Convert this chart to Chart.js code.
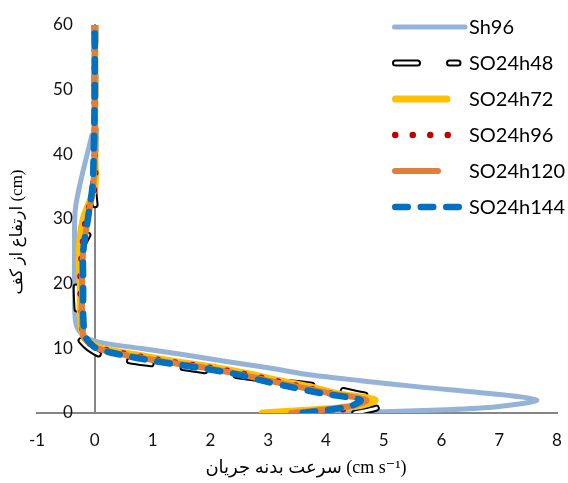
<!DOCTYPE html>
<html>
<head>
<meta charset="utf-8">
<script src="https://cdn.jsdelivr.net/npm/chart.js@4.4.0/dist/chart.umd.min.js"></script>
<style>
  html, body { margin: 0; padding: 0; background: #fff; }
  #wrap { width: 568px; height: 483px; }
</style>
</head>
<body>
<div id="wrap"><canvas id="velocityProfile" width="568" height="483"></canvas></div>
<script>
// heights above the bed (cm)
const heightsSO = [0, 1, 2, 3, 4, 5, 6, 7, 8, 9, 10, 11, 12, 15, 20, 25, 30, 35, 40, 50, 60];
const heightsSh96 = [0, 0.5, 1, 2, 3, 4, 5, 6, 7, 8, 9, 10, 11, 12, 14, 20, 25, 32, 43];

// body velocity (cm/s) at each height
const velSh96 = [4.2, 6.1, 7.0, 7.65, 6.85, 5.65, 4.6, 3.65, 3.0, 2.25, 1.55, 0.78, 0.05, -0.2, -0.33, -0.35, -0.35, -0.33, -0.05];
const velSO24h48 = [4.5, 4.95, 5.0, 4.55, 4.0, 3.1, 2.3, 1.55, 0.65, 0.1, -0.1, -0.22, -0.28, -0.3, -0.32, -0.25, 0.0, -0.02, 0, 0, 0];
const velSO24h72 = [2.9, 4.5, 4.85, 4.2, 3.75, 3.2, 2.7, 2.1, 1.35, 0.7, 0.12, -0.1, -0.2, -0.25, -0.25, -0.27, -0.2, 0, 0, 0, 0];
const velSO24h96 = [4.0, 4.45, 4.6, 4.1, 3.6, 3.1, 2.6, 2.0, 1.25, 0.62, 0.08, -0.12, -0.2, -0.22, -0.25, -0.22, -0.15, 0, 0, 0, 0];
const velSO24h120 = [3.4, 4.4, 4.7, 4.1, 3.55, 3.0, 2.5, 1.9, 1.15, 0.5, 0.05, -0.12, -0.2, -0.22, -0.22, -0.2, -0.12, -0.03, 0, 0, 0];
const velSO24h144 = [3.6, 4.4, 4.6, 3.95, 3.4, 2.9, 2.45, 1.8, 1.05, 0.45, 0.03, -0.1, -0.17, -0.2, -0.2, -0.2, -0.12, -0.04, -0.02, 0, 0];

const seriesNames = ['Sh96', 'SO24h48', 'SO24h72', 'SO24h96', 'SO24h120', 'SO24h144'];
const xRange = [-1, 8];
const yRange = [0, 60];
const xTitle = 'سرعت بدنه جریان (cm s\u207B\u00B9)';
const yTitle = 'ارتفاع از کف (cm)';

const tickFont = '17px Lato';
const tickColor = '#111';
const titleFont = "18px 'Liberation Serif', 'DejaVu Sans'";

// line look for each series, also used for the legend keys
const styles = [
  { color: '#95B3D7', width: 5, dash: [], cap: 'round', key: 73 },
  { color: '#000000', width: 7, dash: [22, 32], cap: 'round', key: 66, inner: '#ffffff' },
  { color: '#FFC000', width: 7, dash: [], cap: 'round', key: 55 },
  { color: '#C00000', width: 6.5, dash: [0, 17.5], cap: 'round', key: 70 },
  { color: '#E07F3C', width: 6, dash: [], cap: 'round', key: 46 },
  { color: '#0070C0', width: 6.5, dash: [12.5, 13], cap: 'round', key: 67 }
];

function toPoints(vel, heights) {
  return heights.map(function (h, i) { return { x: vel[i], y: h }; });
}

const profiles = [
  toPoints(velSh96, heightsSh96),
  toPoints(velSO24h48, heightsSO),
  toPoints(velSO24h72, heightsSO),
  toPoints(velSO24h96, heightsSO),
  toPoints(velSO24h120, heightsSO),
  toPoints(velSO24h144, heightsSO)
];

function lineSet(points, st, color, width, order) {
  return {
    data: points,
    showLine: true,
    fill: false,
    pointRadius: 0,
    pointHoverRadius: 0,
    borderColor: color,
    borderWidth: width,
    borderDash: st.dash,
    borderCapStyle: st.cap,
    borderJoinStyle: 'round',
    tension: 0.3,
    order: order
  };
}

// later series sit on top (lower order draws last)
const datasets = [];
profiles.forEach(function (points, i) {
  const st = styles[i];
  const order = (6 - i) * 2;
  datasets.push(Object.assign(lineSet(points, st, st.color, st.width, order), { label: seriesNames[i] }));
  if (st.inner) {
    // white core gives the outlined dash
    datasets.push(lineSet(points, st, st.inner, 3, order - 1));
  }
});

const profileLegend = {
  id: 'profileLegend',
  afterDraw(chart) {
    const ctx = chart.ctx;
    ctx.save();
    styles.forEach(function (st, i) {
      const y = 27 + i * 36;
      const x0 = 392 + st.width / 2;
      const x1 = 392 + st.key;
      const strokes = st.inner ? [[st.color, st.width], [st.inner, 3]] : [[st.color, st.width]];
      strokes.forEach(function (s) {
        ctx.beginPath();
        ctx.setLineDash(st.dash);
        ctx.lineCap = st.cap;
        ctx.strokeStyle = s[0];
        ctx.lineWidth = s[1];
        ctx.moveTo(x0, y);
        ctx.lineTo(x1, y);
        ctx.stroke();
      });
      ctx.setLineDash([]);
      ctx.fillStyle = '#000';
      ctx.font = '20px Lato';
      ctx.textBaseline = 'middle';
      ctx.textAlign = 'left';
      ctx.fillText(seriesNames[i], 469, y + 1);
    });
    ctx.restore();
  }
};

// tick labels and axis titles; the height axis crosses at zero velocity
// and its labels sit just left of that line
const axisText = {
  id: 'axisText',
  afterDraw(chart) {
    const ctx = chart.ctx;
    const xs = chart.scales.x;
    const ys = chart.scales.y;
    const yLabelRight = xs.getPixelForValue(0) - 22;
    ctx.save();
    ctx.fillStyle = tickColor;
    ctx.font = tickFont;
    ctx.textBaseline = 'middle';
    ctx.textAlign = 'right';
    ys.ticks.forEach(function (t) {
      ctx.fillText(t.label, yLabelRight, ys.getPixelForValue(t.value));
    });
    ctx.textAlign = 'center';
    xs.ticks.forEach(function (t) {
      ctx.fillText(t.label, xs.getPixelForValue(t.value), ys.bottom + 28);
    });

    ctx.fillStyle = '#000';
    ctx.font = titleFont;
    ctx.fillText(xTitle, (xs.left + xs.right) / 2 + 9, ys.bottom + 55);

    ctx.font = "17px 'Liberation Serif', 'DejaVu Sans'";
    ctx.translate(18, 232);
    ctx.rotate(-Math.PI / 2);
    ctx.fillText(yTitle, 0, 0);
    ctx.restore();
  }
};

new Chart(document.getElementById('velocityProfile'), {
  type: 'scatter',
  data: { datasets: datasets },
  options: {
    responsive: false,
    animation: false,
    layout: { padding: { left: 37, right: 11, top: 25, bottom: 70 } },
    plugins: {
      legend: { display: false },
      tooltip: { enabled: false }
    },
    scales: {
      x: {
        type: 'linear',
        min: xRange[0],
        max: xRange[1],
        ticks: { stepSize: 1, display: false },
        grid: { display: false, drawTicks: false },
        border: { display: true, color: '#868686', width: 2 }
      },
      y: {
        type: 'linear',
        position: { x: 0 },
        min: yRange[0],
        max: yRange[1],
        ticks: { stepSize: 10, display: false },
        grid: { display: false, drawTicks: false },
        border: { display: true, color: '#868686', width: 2 }
      }
    }
  },
  plugins: [profileLegend, axisText]
});
</script>
</body>
</html>
